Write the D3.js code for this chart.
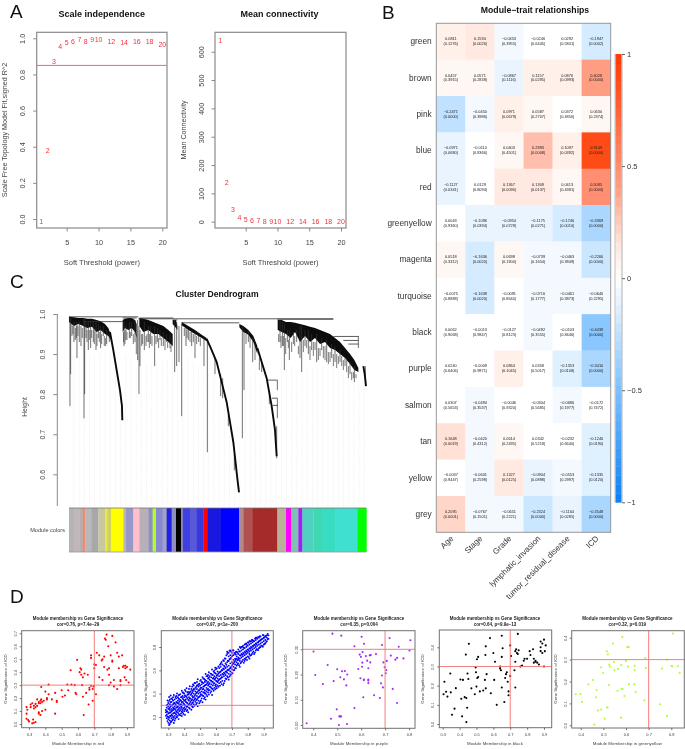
<!DOCTYPE html>
<html><head><meta charset="utf-8">
<script src="https://cdn.jsdelivr.net/npm/d3@7"></script>
<style>
html,body{margin:0;padding:0;background:#fff}
svg{display:block;font-family:"Liberation Sans",Arial,sans-serif;filter:blur(0.42px)}
</style></head><body>
<script>
// ---------- A: soft threshold ----------
const powers=[1,2,3,4,5,6,7,8,9,10,12,14,16,18,20];
const scaleFit=[-0.015,0.38,0.87,0.955,0.975,0.985,0.995,0.985,0.993,0.993,0.985,0.975,0.985,0.98,0.965];
const meanConn=[640,140,42,16,8,4,3,2,1,1,0,0,0,0,0];
const fitTicks=[0,0.2,0.4,0.6,0.8,1];
const connTicks=[0,100,200,300,400,500,600];
const powerTicks=[5,10,15,20];
const fitCut=0.85;
// ---------- B: module-trait ----------
const modules=["green","brown","pink","blue","red","greenyellow","magenta","turquoise","black","purple","salmon","tan","yellow","grey"];
const traits=["Age","Stage","Grade","lymphatic_invasion","tumor_residual_disease","ICD"];
const corAge=[0.0811,0.0457,-0.2471,-0.0971,-0.1127,0.0043,0.0518,-0.0075,0.0062,0.0240,0.0307,0.1648,-0.0037,0.2095];
const corStage=[0.1594,0.0571,-0.0450,-0.0110,0.0129,-0.1096,-0.1636,-0.1638,-0.0013,-0.0009,-0.0494,-0.0420,-0.0601,-0.0767];
const corGrade=[-0.0453,-0.0867,0.0971,0.0403,0.1367,-0.0954,0.0698,-0.0091,-0.0127,0.0864,-0.0046,0.0614,0.1327,-0.0651];
const corLymph=[-0.0246,0.1157,0.0587,0.2893,0.1309,-0.1175,-0.0739,-0.0716,-0.0492,0.0358,-0.0304,0.0342,-0.0904,-0.2324];
const corResid=[0.0292,0.0876,0.0372,0.1097,0.0413,-0.1746,-0.0463,-0.0461,-0.0103,-0.1353,-0.0686,-0.0232,-0.0553,-0.1164];
const corICD=[-0.1947,0.4028,0.0630,0.9149,0.5095,-0.3369,-0.2266,-0.0640,-0.4439,-0.3410,-0.0172,-0.1246,-0.1335,-0.3548];
const pAge=["0.1276","0.3915","0.0000","0.0680","0.0341","0.9360","0.3312","0.8888","0.9068","0.6406","0.5653","0.0019","0.9447","0.0001"];
const pStage=["0.0026","0.2838","0.3986","0.8366","0.8094","0.0394","0.0020","0.0020","0.9847","0.9871","0.3537","0.4312","0.2598","0.1501"];
const pGrade=["0.3955","0.1116","0.0679","0.4501","0.0090","0.0729","0.1900","0.8640","0.8123","0.1045","0.9320","0.2495","0.0125","0.2221"];
const pLymph=["0.6445","0.0295","0.2707","0.0008","0.0137","0.0271","0.1654","0.1777","0.3555","0.5017","0.5685","0.5218","0.0898","0.0000"];
const pResid=["0.5841","0.0993","0.4850","0.0392","0.4381","0.0010","0.3849","0.3873","0.8446","0.0108","0.1977","0.6640","0.2997","0.0285"];
const pICD=["0.0002","0.0000","0.2374","0.0000","0.0000","0.0000","0.0000","0.2295","0.0000","0.0000","0.7472","0.0190","0.0120","0.0000"];
const corTicks=[-1,-0.5,0,0.5,1];
// ---------- C: dendrogram (order along the leaves, height) ----------
const heightTicks=[0.6,0.7,0.8,0.9,1.0];
const dendroLinks=[[207,415,.993],[415,1000,.988],[832,1000,.987],[250,368,.981],[545,718,.978],[368,410,.99],[418,520,.99],[518,532,.985],[1000,1075,.944],[1030,1075,.934],[1045,1075,.925],[803,832,.835],[816,832,.79],[818,832,.772]];
const dendroStems=[[210,.99,.77],[212,.99,.85],[222,.98,.93],[231,.98,.89],[238,.98,.93],[243,.97,.92],[252,.99,.74],[254,.99,.8],[258,.98,.94],[265,.98,.91],[272,.98,.915],[280,.98,.93],[288,.98,.91],[295,.975,.94],[302,.97,.915],[310,.97,.945],[320,.96,.925],[328,.955,.93],
[372,.98,.92],[378,.97,.935],[388,.98,.94],[395,.98,.945],[405,.985,.93],[413,.985,.885],[417,.97,.80],[420,.96,.87],
[433,.98,.91],[445,.97,.93],[452,.97,.925],[464,.97,.87],[472,.965,.93],[480,.96,.935],[490,.955,.92],[500,.95,.93],[510,.95,.915],[516,.94,.92],
[524,.985,.855],[530,.98,.87],[537,.97,.88],[545,.975,.745],[558,.965,.92],[565,.96,.935],[575,.955,.92],[585,.95,.89],[596,.945,.93],[612,.94,.87],[622,.938,.655],[645,.89,.85],[662,.85,.795],[668,.84,.79],[685,.75,.72],[703,.65,.61],
[727,.97,.69],[732,.96,.81],[745,.96,.93],[758,.94,.88],[785,.88,.855],[808,.8,.775],[830,.72,.64],[832,.835,.81],[832,.79,.77],[832,.772,.74],
[840,.985,.93],[847,.98,.92],[853,.975,.86],[862,.96,.93],[868,.96,.885],[880,.955,.925],[890,.96,.93],[900,.97,.89],[905,.97,.855],[915,.96,.92],[925,.96,.9],[935,.95,.91],[950,.95,.88],[965,.94,.91],[980,.935,.88],[995,.925,.89],[1005,.92,.88],[1020,.91,.88],[1035,.89,.87],[1050,.88,.85],[1063,.87,.83],[1075,.945,.915],[1096,.87,.82]];
const dendroFine=[[216,.975,.945],[219,.97,.95],[226,.965,.935],[229,.97,.94],[234,.97,.945],[247,.965,.94],[261,.96,.93],[268,.96,.935],[275,.96,.94],[283,.96,.925],[291,.95,.92],[298,.955,.93],[305,.95,.925],[313,.945,.92],[317,.94,.92],
[371,.955,.93],[375,.96,.925],[381,.955,.935],[391,.955,.94],[400,.95,.925],[409,.95,.9],
[425,.95,.92],[428,.95,.925],[438,.945,.92],[441,.95,.93],[448,.95,.915],[456,.945,.92],[468,.945,.925],[476,.94,.915],[484,.94,.92],[495,.935,.91],[503,.93,.915],[513,.92,.905],
[553,.965,.945],[561,.96,.94],[570,.955,.93],[580,.95,.93],[590,.945,.925],[601,.94,.92],
[738,.95,.925],[750,.945,.915],[765,.92,.885],[778,.89,.86],
[836,.95,.93],[843,.945,.915],[850,.945,.92],[857,.94,.9],[865,.935,.915],[875,.93,.905],[884,.945,.92],[895,.92,.9],[910,.935,.905],[920,.935,.915],[930,.92,.885],[940,.93,.895],[945,.93,.91],[955,.915,.885],[960,.915,.895],[970,.92,.89],[975,.92,.885],[985,.905,.875],[990,.905,.88],[1000,.9,.87],[1010,.9,.865],[1015,.895,.875],[1025,.895,.87],[1030,.885,.86],[1040,.885,.855],[1045,.87,.84],[1055,.855,.835],[1060,.855,.84],[1068,.85,.84]];
const dendroBands=[
[[207,.993,.98],[222,.992,.97],[235,.99,.975],[250,.99,.97],[262,.988,.965],[276,.988,.968],[290,.985,.955],[302,.982,.96],[315,.975,.95],[325,.965,.945],[332,.95,.935]],
[[368,.985,.955],[375,.988,.965],[385,.99,.96],[395,.99,.965],[405,.985,.955],[410,.975,.94]],
[[418,.99,.97],[430,.988,.955],[445,.985,.96],[460,.98,.95],[475,.975,.95],[490,.97,.94],[505,.96,.93],[518,.95,.92]],
[[518,.985,.975],[528,.985,.965],[532,.97,.96]],
[[545,.98,.972],[565,.97,.96],[585,.96,.95],[605,.948,.94],[620,.94,.932]],
[[718,.975,.967],[730,.97,.955],[745,.96,.948],[760,.945,.93],[772,.92,.9]],
[[833,.985,.96],[845,.985,.955],[858,.98,.95],[872,.98,.94],[885,.978,.955],[900,.975,.93],[915,.972,.945],[930,.968,.93],[945,.965,.94],[960,.96,.925],[975,.955,.93],[990,.95,.915],[1005,.94,.91],[1020,.93,.9],[1035,.915,.89],[1050,.9,.875],[1063,.885,.86],[1075,.865,.855]]
];
const dendroCurves=[
[[330,.955],[340,.91],[350,.86],[360,.81],[366,.77],[367,.735]],
[[620,.938],[635,.91],[650,.88],[665,.83],[680,.78],[692,.72],[700,.68],[712,.59],[717,.555]],
[[772,.915],[785,.88],[800,.84],[815,.77],[825,.71],[830,.645]],
[[1090,.87],[1094,.85],[1098,.82]]
];
const dendroFloor=[[205,.76],[215,.9],[250,.9],[330,.91],[345,.88],[368,.73],[372,.91],[415,.86],[420,.87],[520,.9],[545,.85],[555,.9],[620,.86],[650,.85],[680,.75],[715,.55],[720,.69],[735,.81],[760,.87],[790,.83],[810,.75],[830,.64],[835,.9],[900,.86],[1000,.88],[1060,.83],[1100,.82]];
const moduleStrip=[[207,"#b4b4b4"],[222,"#c0b8b8"],[240,"#b0b0b0"],[248,"#f08a72"],[256,"#b8b8b8"],[275,"#a8a8a8"],[295,"#c8c8a0"],[315,"#e8e840"],[322,"#d0d060"],[333,"#ffff00"],[370,"#b8b8b0"],[378,"#9898c8"],[400,"#ffc0cb"],[418,"#b8b0b8"],[445,"#9090c0"],[458,"#adff2f"],[468,"#8888d0"],[488,"#a0a0c8"],[500,"#2020e0"],[515,"#9090c0"],[528,"#000000"],[544,"#a0a0c0"],[548,"#4040e0"],[570,"#5858d8"],[590,"#3838e0"],[610,"#ff0000"],[623,"#1818e0"],[663,"#0000ff"],[717,"#b08a8a"],[730,"#b05050"],[758,"#a52a2a"],[832,"#b8b098"],[858,"#ff00ff"],[873,"#80c0b0"],[895,"#a020f0"],[907,"#50d0c0"],[940,"#40d8b0"],[965,"#38dcc0"],[1005,"#40e0d0"],[1073,"#00ff00"],[1099,"#00ff00"]];
// ---------- D: scatter panels ([module membership, gene significance]) ----------
const redPoints=[[.285,.13],[.29,.11],[.285,.08],[.285,.04],[.295,.03],[.30,.02],[.32,.005],[.33,.01],[.34,.015],[.325,.035],[.31,.15],[.31,.13],[.32,.16],[.33,.14],[.33,.12],[.34,.13],[.34,.155],[.35,.14],[.35,.19],[.36,.16],[.36,.17],[.37,.18],[.37,.16],[.375,.19],[.38,.17],[.39,.18],[.36,.09],[.36,.08],[.37,.07],[.38,.1],[.40,.11],[.375,.285],[.41,.19],[.40,.25],[.41,.2],[.42,.23],[.42,.305],[.44,.19],[.46,.24],[.46,.08],[.47,.18],[.47,.17],[.50,.26],[.505,.21],[.52,.22],[.535,.305],[.54,.26],[.555,.415],[.56,.305],[.58,.3],[.585,.24],[.59,.23],[.595,.495],[.61,.4],[.615,.43],[.62,.42],[.62,.38],[.625,.3],[.63,.36],[.63,.21],[.635,.07],[.64,.39],[.65,.24],[.66,.38],[.665,.15],[.67,.28],[.67,.265],[.68,.53],[.68,.51],[.68,.295],[.69,.18],[.69,.27],[.695,.29],[.70,.43],[.70,.46],[.71,.23],[.71,.455],[.715,.55],[.73,.36],[.73,.53],[.745,.49],[.75,.5],[.75,.34],[.76,.52],[.76,.44],[.765,.66],[.77,.65],[.775,.69],[.78,.42],[.785,.6],[.79,.43],[.79,.38],[.79,.3],[.8,.53],[.8,.32],[.81,.68],[.81,.48],[.81,.49],[.82,.34],[.82,.29],[.83,.63],[.84,.27],[.84,.55],[.85,.52],[.85,.43],[.86,.33],[.86,.34],[.87,.53],[.86,.3],[.875,.44],[.88,.45],[.885,.36],[.89,.45],[.89,.43],[.895,.34],[.90,.44],[.91,.32],[.92,.42]];
const blueColumns=[[.285,[.21,.24,.26]],[.29,[.19,.22,.25,.28,.3]],[.30,[.15,.18,.2,.23,.27,.29,.32]],[.31,[.14,.17,.21,.24,.26,.28,.31,.35]],[.32,[.16,.19,.22,.25,.27,.3,.33,.36]],[.33,[.18,.2,.23,.26,.28,.31,.34,.37]],[.34,[.17,.21,.24,.27,.29,.32,.35]],[.35,[.2,.22,.25,.28,.3,.33,.36,.38]],[.36,[.21,.24,.26,.29,.32,.34,.37]],[.37,[.22,.25,.28,.3,.33,.35,.39]],[.38,[.23,.27,.29,.31,.34,.37]],[.39,[.24,.26,.3,.33,.36,.38,.41]],[.40,[.25,.28,.31,.34,.37,.4]],[.41,[.27,.3,.33,.35,.38,.42]],[.42,[.26,.29,.32,.36,.39,.41]],[.43,[.28,.31,.34,.37,.4,.44]],[.44,[.3,.33,.36,.39,.42]],[.45,[.29,.32,.35,.38,.41,.43,.46]],[.46,[.31,.34,.37,.4,.44,.47]],[.47,[.33,.36,.39,.42,.45,.49]],[.48,[.32,.35,.38,.41,.44,.47,.5]],[.49,[.34,.37,.4,.43,.46,.48]],[.50,[.33,.38,.41,.44,.47,.51]],[.51,[.36,.39,.42,.45,.48,.5]],[.52,[.38,.41,.44,.46,.49,.53]],[.53,[.37,.4,.43,.47,.5,.52]],[.54,[.39,.42,.45,.48,.51,.55]],[.55,[.41,.44,.47,.5,.53,.56]],[.56,[.43,.46,.49,.52,.55]],[.57,[.42,.45,.48,.51,.54,.57]],[.58,[.44,.47,.5,.53,.56]],[.59,[.45,.49,.52,.55,.58,.6]],[.60,[.46,.48,.51,.54,.57,.61]],[.61,[.47,.5,.53,.56,.59]],[.62,[.49,.52,.55,.58,.62]],[.63,[.5,.53,.56,.59,.63,.66]],[.64,[.51,.54,.57,.6,.65]],[.65,[.49,.55,.58,.61,.64,.68]],[.66,[.53,.56,.59,.62,.66,.7]],[.67,[.55,.58,.6,.63,.67,.74,.76]],[.68,[.52,.57,.6,.64,.68,.72,.75]],[.69,[.56,.59,.62,.66,.7,.73,.77]],[.70,[.58,.61,.64,.67,.72,.75]],[.71,[.6,.63,.66,.69,.73,.77]],[.72,[.62,.65,.68,.7,.74]],[.73,[.64,.67,.7,.72,.76]],[.74,[.66,.69,.71,.74,.78]],[.75,[.63,.68,.7,.73,.76,.8]],[.76,[.67,.71,.74,.77,.8]],[.77,[.69,.72,.75,.78,.81]],[.78,[.68,.7,.73,.76,.79,.82]],[.79,[.71,.74,.77,.8,.83]],[.80,[.72,.75,.78,.81,.84]],[.81,[.7,.74,.76,.79,.82,.85]],[.82,[.73,.77,.8,.83,.85]],[.83,[.75,.78,.81,.84,.86]],[.84,[.74,.79,.82,.85]],[.85,[.77,.8,.83,.86,.88]],[.86,[.78,.81,.84,.87]],[.87,[.79,.82,.85,.88]],[.88,[.8,.83,.86,.89]],[.89,[.81,.84,.87]],[.90,[.82,.85,.88,.9]],[.91,[.83,.86,.89]],[.92,[.85,.88,.9]],[.93,[.87,.9]]];
const blueColumns2=[[.295,[.165,.205,.245,.305,.342]],[.305,[.132,.193,.235,.268,.338,.372]],[.315,[.155,.207,.238,.292,.327,.384]],[.325,[.173,.212,.256,.298,.352]],[.335,[.148,.194,.233,.273,.318,.389]],[.345,[.186,.229,.262,.309,.371]],[.355,[.197,.238,.283,.322,.402]],[.365,[.182,.227,.268,.313,.358,.386]],[.375,[.214,.259,.306,.347,.396]],[.385,[.208,.247,.281,.328,.372,.425]],[.395,[.226,.272,.318,.351,.408]],[.405,[.218,.263,.296,.342,.385,.432]],[.415,[.252,.287,.324,.371,.446]],[.425,[.241,.302,.347,.392,.415]],[.435,[.273,.319,.356,.412,.463]],[.445,[.262,.308,.343,.397,.441]],[.455,[.284,.327,.368,.423,.478]],[.465,[.296,.352,.381,.436,.491]],[.475,[.309,.345,.403,.458]],[.485,[.293,.362,.417,.472,.524]],[.495,[.318,.373,.428,.486]],[.505,[.342,.396,.452,.518]],[.515,[.327,.384,.437,.497,.542]],[.525,[.356,.412,.463,.528]],[.535,[.349,.405,.474,.513,.568]],[.545,[.378,.436,.492,.549]],[.555,[.392,.428,.481,.537,.583]],[.565,[.407,.459,.512,.572]],[.575,[.389,.443,.503,.561,.607]],[.585,[.425,.486,.534,.589]],[.595,[.438,.471,.528,.576,.623]],[.605,[.446,.507,.553,.618]],[.615,[.459,.513,.572,.634]],[.625,[.468,.527,.586,.648]],[.635,[.482,.541,.603,.672]],[.645,[.474,.563,.616,.687]],[.655,[.508,.572,.632,.702]],[.665,[.526,.587,.648,.728]],[.675,[.538,.606,.682,.752]],[.685,[.546,.613,.695,.768]],[.695,[.567,.628,.708,.761]],[.705,[.574,.652,.727,.772]],[.715,[.603,.671,.748]],[.725,[.618,.693,.736,.757]],[.735,[.652,.688,.752]],[.745,[.643,.702,.763]],[.755,[.661,.726,.791]],[.765,[.679,.734,.802]],[.775,[.664,.741,.794]],[.785,[.697,.753,.826]],[.795,[.688,.762,.818]],[.805,[.713,.772,.836]],[.815,[.726,.784,.848]],[.825,[.738,.793,.861]],[.835,[.762,.807,.852]],[.845,[.752,.816,.872]],[.855,[.781,.824,.879]],[.865,[.773,.838,.886]],[.875,[.796,.851,.893]],[.885,[.812,.864]],[.895,[.803,.872,.903]],[.905,[.828,.881]],[.915,[.842,.896]],[.925,[.867,.912]]];
const purplePoints=[[.372,.007],[.401,.291],[.408,.198],[.44,.162],[.46,.238],[.474,.025],[.48,.362],[.485,.174],[.498,.062],[.50,.221],[.507,0],[.509,.034],[.513,.189],[.513,.034],[.516,.034],[.517,.354],[.52,.213],[.528,.181],[.532,.214],[.538,.157],[.541,.004],[.542,.2],[.572,.067],[.572,.312],[.588,.222],[.594,.279],[.597,.185],[.599,.27],[.602,.35],[.604,.231],[.605,.247],[.606,.289],[.609,.11],[.611,.178],[.612,.322],[.612,.18],[.62,.273],[.625,.255],[.63,.225],[.63,.18],[.63,.176],[.63,.166],[.636,.276],[.64,.277],[.638,.248],[.654,.118],[.662,.281],[.678,.107],[.683,.165],[.687,.317],[.687,.196],[.691,.149],[.693,.248],[.698,.229],[.703,.205],[.705,.218],[.707,.254],[.719,.345],[.724,.275],[.732,.143],[.743,.259],[.75,.266],[.75,.087],[.757,.31],[.777,.264],[.802,.295],[.806,.336]];
const blackPoints=[[.305,.155],[.31,.22],[.32,.168],[.328,.143],[.345,.263],[.348,.165],[.355,.048],[.37,.08],[.378,.187],[.405,.232],[.41,.132],[.415,.04],[.42,.23],[.43,.14],[.437,.362],[.44,.135],[.44,.01],[.445,.085],[.447,.263],[.452,.235],[.455,.418],[.47,.186],[.49,.155],[.495,.295],[.497,.27],[.5,.195],[.503,.338],[.505,.24],[.51,.35],[.51,.245],[.52,.17],[.54,.175],[.55,.23],[.553,.36],[.555,.186],[.555,.405],[.56,.26],[.58,.448],[.585,.16],[.6,.37],[.605,.23],[.61,.325],[.62,.1],[.64,.29],[.64,.3],[.645,.28],[.65,.35],[.65,.19],[.655,.395],[.65,.46],[.665,.115],[.67,.24],[.675,.26],[.68,.27],[.685,.22],[.69,.17],[.69,.15],[.7,.41],[.7,.25],[.705,.355],[.725,.28],[.73,.325],[.73,.19],[.73,.38],[.735,.39],[.74,.37],[.745,.365],[.75,.385],[.745,.47],[.76,.3],[.77,.305],[.78,.33],[.785,.34],[.8,.34],[.815,.38],[.82,.36],[.835,.39],[.84,.34],[.85,.33],[.86,.32],[.87,.31],[.88,.4],[.89,.42],[.88,.43],[.89,.37],[.9,.44],[.91,.41],[.85,.325],[.84,.32],[.88,.38],[.905,.38],[.9,.3]];
const greenyellowPoints=[[.378,.142],[.399,.143],[.406,.107],[.434,.187],[.454,.207],[.46,.003],[.468,.128],[.47,.161],[.476,.068],[.491,.072],[.49,.265],[.499,.239],[.506,.03],[.516,.081],[.519,.081],[.515,.338],[.52,.324],[.526,.277],[.529,.268],[.525,.184],[.547,.289],[.543,.373],[.549,.251],[.565,.257],[.562,.158],[.578,.035],[.579,.275],[.581,.166],[.585,.167],[.593,.134],[.6,.294],[.609,.268],[.606,.358],[.613,.356],[.613,.187],[.584,.403],[.637,.187],[.638,.272],[.638,.251],[.643,.152],[.681,.114],[.685,.307],[.688,.262],[.751,.096],[.759,.259],[.781,.3],[.781,.043],[.801,.271],[.807,.419],[.804,.269],[.829,.271],[.837,.24]];
const scatterPanels=[
 {name:"red",color:"#ff0000",stat:"cor=0.76, p=7.4e\u221229",pts:redPoints,xt:[.3,.4,.5,.6,.7,.8,.9],yt:[0,.1,.2,.3,.4,.5,.6,.7],yf:".1f",hline:.3,box:[21.7,134,630.7,727.7],xr:[.3,.9,29,127],yr:[0,.7,724,633.3],cx:78,ly:6.8},
 {name:"blue",color:"#0000ff",stat:"cor=0.97, p<1e\u2212200",pts:blueColumns.concat(blueColumns2).flatMap(([m,g])=>g.map(v=>[m,v])),xt:[.3,.4,.5,.6,.7,.8,.9],yt:[.2,.4,.6,.8],yf:".1f",hline:.3,box:[161.3,273.3,630.7,728],xr:[.3,.9,168.3,263.7],yr:[.2,.8,717,647],cx:217.3,ly:146.5},
 {name:"purple",color:"#a62cf5",stat:"cor=0.35, p=0.004",pts:purplePoints,xt:[.4,.5,.6,.7,.8],yt:[0,.1,.2,.3],yf:".2f",hline:.3,box:[302.7,415,630.7,728.3],xr:[.4,.8,313.3,409],yr:[0,.3,725,649.3],cx:359,ly:287},
 {name:"black",color:"#000000",stat:"cor=0.64, p=9.9e\u221213",pts:blackPoints,xt:[.3,.4,.5,.6,.7,.8,.9],yt:[0,.1,.2,.3,.4],yf:".1f",hline:.3,box:[439.3,551.7,630,727.7],xr:[.3,.9,442.7,544],yr:[0,.4,724,647.3],cx:495,ly:424},
 {name:"greenyellow",color:"#adff2f",stat:"cor=0.32, p=0.019",pts:greenyellowPoints,xt:[.4,.5,.6,.7,.8],yt:[0,.1,.2,.3,.4],yf:".1f",hline:.3,box:[571.7,684.3,630.7,728],xr:[.4,.8,580.7,671.3],yr:[0,.4,725.3,637.7],cx:627.3,ly:556.5}
];

// ---------- drawing ----------
const svg=d3.select("body").append("svg").attr("width",685).attr("height",749);
svg.append("rect").attr("width",685).attr("height",749).attr("fill","#fff");
const GREY="#444", FRAME="#8a8a8a";
function text(s,x,y,size,opt={}){
  const t=svg.append("text").attr("x",x).attr("y",y).attr("font-size",size).attr("fill",opt.fill||"#333")
    .attr("text-anchor",opt.anchor||"middle").attr("font-weight",opt.weight||"normal").text(s);
  if(opt.rot!=null)t.attr("transform",`rotate(${opt.rot} ${x} ${y})`);
  return t;
}
[["A",10,17.5],["B",382,18.5],["C",10,287.5],["D",10,603]].forEach(([s,x,y])=>text(s,x,y,19,{anchor:"start",fill:"#111"}));

function xAxis(scale,values,y,fs,tk,pad,fmt,stroke){
  const g=svg.append("g").attr("transform",`translate(0,${y})`).call(d3.axisBottom(scale).tickValues(values).tickSize(tk).tickPadding(pad).tickFormat(fmt));
  g.select(".domain").remove();g.selectAll("line").attr("stroke",stroke||FRAME);
  g.selectAll("text").attr("font-size",fs).attr("fill",GREY);
  g.attr("font-family",null);return g;
}
function yAxis(scale,values,x,fs,tk,pad,fmt,stroke){
  const g=svg.append("g").attr("transform",`translate(${x},0)`).call(d3.axisLeft(scale).tickValues(values).tickSize(tk).tickPadding(pad).tickFormat(fmt));
  g.select(".domain").remove();g.selectAll("line").attr("stroke",stroke||FRAME);
  g.selectAll("text").attr("font-size",fs).attr("fill",GREY).attr("transform","rotate(-90)").attr("x",0).attr("y",-(tk+pad)).attr("dy",0).attr("text-anchor","middle");
  g.attr("font-family",null);return g;
}
function box(x0,x1,y0,y1,sw,stroke){svg.append("rect").attr("x",x0).attr("y",y0).attr("width",x1-x0).attr("height",y1-y0).attr("fill","none").attr("stroke",stroke||FRAME).attr("stroke-width",sw||1);}

// Panel A
function panelA(o){
  const x=d3.scaleLinear().domain([5,20]).range(o.xr), y=d3.scaleLinear().domain(o.yd).range(o.yr);
  box(o.box[0],o.box[1],32.3,228,1.2);
  xAxis(x,powerTicks,228,7.3,3.5,8,d3.format("d"));
  yAxis(y,o.yt,o.box[0],7.3,3.5,8,o.fmt);
  text(o.title,(o.box[0]+o.box[1])/2+(o.tdx||0),16.5,9,{weight:"bold",fill:"#111"});
  text("Soft Threshold (power)",(o.box[0]+o.box[1])/2,264.5,7.5,{fill:GREY});
  text(o.ylab,o.lx,130,o.lfs,{rot:-90,fill:GREY});
  if(o.cut!=null)svg.append("line").attr("x1",o.box[0]).attr("x2",o.box[1]).attr("y1",y(o.cut)).attr("y2",y(o.cut)).attr("stroke","#f26a6a").attr("stroke-width",1);
  svg.append("g").selectAll("text").data(powers).join("text").attr("x",d=>x(d)).attr("y",(d,i)=>y(o.vals[i])+2.5).attr("text-anchor","middle").attr("font-size",7).attr("fill","#f4303a").text(d=>d);
}
panelA({box:[36.7,167],xr:[66.7,162.3],yd:[0,1],yr:[219,38.3],yt:fitTicks,fmt:d3.format(".1f"),vals:scaleFit,cut:fitCut,title:"Scale independence",ylab:"Scale Free Topology Model Fit,signed R^2",lx:7,lfs:7.2});
panelA({box:[215,346],xr:[245.7,341],yd:[0,600],yr:[221.7,51.7],yt:connTicks,fmt:d3.format("d"),vals:meanConn,title:"Mean connectivity",tdx:-1,ylab:"Mean Connectivity",lx:186,lfs:7.2});

// Panel B
const corByTrait=[corAge,corStage,corGrade,corLymph,corResid,corICD];
const pByTrait=[pAge,pStage,pGrade,pLymph,pResid,pICD];
const corColor=d3.scaleLinear().domain([-1,-.44,-.34,-.16,0,.16,.4,.5,.9,1]).range(["#0a80f5","#8cc8ff","#a8d6ff","#d8ecff","#ffffff","#ffe4da","#ff9f85","#ff8d6e","#ff4a14","#ff3a08"]);
const stepColor=v=>corColor(Math.trunc(v/0.04)*0.04+(Math.abs(v)<0.04?0:Math.sign(v)*0.01));
const hx=d3.scaleBand().domain(traits).range([436.3,610.7]);
const hy=d3.scaleBand().domain(modules).range([23.3,532.3]);
const cells=[];traits.forEach((t,c)=>modules.forEach((m,r)=>cells.push({t,m,v:corByTrait[c][r],p:pByTrait[c][r]})));
const fmtCor=v=>(v<0?"\u2212":"")+Math.abs(v).toFixed(4);
svg.append("g").selectAll("rect").data(cells).join("rect").attr("x",d=>hx(d.t)).attr("y",d=>hy(d.m)).attr("width",hx.bandwidth()+.3).attr("height",hy.bandwidth()+.3).attr("fill",d=>stepColor(d.v));
const cellG=svg.append("g").attr("font-size",3.9).attr("fill","#222").attr("text-anchor","middle");
cellG.selectAll("text.c").data(cells).join("text").attr("class","c").attr("x",d=>hx(d.t)+hx.bandwidth()/2).attr("y",d=>hy(d.m)+hy.bandwidth()/2-1.3).text(d=>fmtCor(d.v));
cellG.selectAll("text.p").data(cells).join("text").attr("class","p").attr("x",d=>hx(d.t)+hx.bandwidth()/2).attr("y",d=>hy(d.m)+hy.bandwidth()/2+3.6).text(d=>`(${d.p})`);
box(436.3,610.7,23.3,532.3,1,"#999");
svg.append("g").selectAll("text").data(modules).join("text").attr("x",431.7).attr("y",d=>hy(d)+hy.bandwidth()/2+2.8).attr("text-anchor","end").attr("font-size",8.3).attr("fill","#333").text(d=>d);
svg.append("g").selectAll("text").data(traits).join("text").attr("transform",d=>`translate(${hx(d)+hx.bandwidth()/2+3},539) rotate(-45)`).attr("text-anchor","end").attr("font-size",8.1).attr("fill","#333").text(d=>d);
text("Module\u2212trait relationships",535,12.5,8.7,{weight:"bold",fill:"#111"});
const cbar=d3.scaleLinear().domain([-1,1]).range([502.3,54]);
const cbSteps=d3.range(-25,25).map(i=>i*0.04);
svg.append("g").selectAll("rect").data(cbSteps).join("rect").attr("x",615.5).attr("width",6).attr("y",d=>cbar(d+0.04)).attr("height",d=>cbar(d)-cbar(d+0.04)+.4).attr("fill",d=>corColor(d+0.02));
svg.append("line").attr("x1",622).attr("x2",622).attr("y1",54).attr("y2",502.3).attr("stroke","#999").attr("stroke-width",.8);
svg.append("line").attr("x1",615).attr("x2",615).attr("y1",54).attr("y2",502.3).attr("stroke","#999").attr("stroke-width",.6);
const cbAxis=svg.append("g").attr("transform","translate(622,0)").call(d3.axisRight(cbar).tickValues(corTicks).tickSize(3).tickPadding(2).tickFormat(d=>d<0?"\u2212"+Math.abs(d):d));
cbAxis.select(".domain").remove();cbAxis.selectAll("line").attr("stroke","#666");cbAxis.selectAll("text").attr("font-size",7.5).attr("fill","#333");cbAxis.attr("font-family",null);

// Panel C
const ox=d3.scaleLinear().domain([205,1100]).range([68.3,366.7]);
const hty=d3.scaleLinear().domain([1,.6]).range([314,474.3]);
const floor=d3.scaleLinear().domain(dendroFloor.map(d=>d[0])).range(dendroFloor.map(d=>d[1]));
svg.append("g").selectAll("line").data(d3.range(222,1100,15.55)).join("line").attr("x1",d=>ox(d)).attr("x2",d=>ox(d)).attr("y1",d=>hty(floor(d))+2).attr("y2",507).attr("stroke","#dedede").attr("stroke-width",.5).attr("stroke-dasharray","1 1.2");
const area=d3.area().x(d=>ox(d[0])).y0(d=>hty(d[1])).y1(d=>hty(d[2]));
svg.append("g").selectAll("path").data(dendroBands).join("path").attr("d",area).attr("fill","#0c0c0c");
svg.append("g").selectAll("line").data(dendroStems).join("line").attr("x1",d=>ox(d[0])).attr("x2",d=>ox(d[0])).attr("y1",d=>hty(d[1])).attr("y2",d=>hty(d[2])).attr("stroke","#333").attr("stroke-width",.7);
svg.append("g").selectAll("line").data(dendroFine).join("line").attr("x1",d=>ox(d[0])).attr("x2",d=>ox(d[0])).attr("y1",d=>hty(d[1])).attr("y2",d=>hty(d[2])).attr("stroke","#222").attr("stroke-width",.6);
svg.append("g").selectAll("line").data(dendroLinks).join("line").attr("x1",d=>ox(d[0])).attr("x2",d=>ox(d[1])).attr("y1",d=>hty(d[2])).attr("y2",d=>hty(d[2])).attr("stroke","#333").attr("stroke-width",.8);
const ln=d3.line().x(d=>ox(d[0])).y(d=>hty(d[1]));
svg.append("g").selectAll("path").data(dendroCurves).join("path").attr("d",ln).attr("fill","none").attr("stroke","#0a0a0a").attr("stroke-width",1.9);
svg.append("line").attr("x1",57.3).attr("x2",57.3).attr("y1",314).attr("y2",506).attr("stroke",FRAME).attr("stroke-width",1);
yAxis(hty,heightTicks,57.3,7,4,8,d3.format(".1f"));
text("Cluster Dendrogram",217,296.5,8.6,{weight:"bold",fill:"#111"});
text("Height",27,407,6.8,{rot:-90,fill:GREY});
text("Module colors",65,532,5.6,{anchor:"end",fill:GREY});
svg.append("g").selectAll("rect").data(moduleStrip.slice(0,-1)).join("rect").attr("x",d=>ox(d[0])).attr("width",(d,i)=>ox(moduleStrip[i+1][0])-ox(d[0])+.3).attr("y",508).attr("height",44).attr("fill",d=>d[1]);
svg.append("line").attr("x1",ox(207)).attr("x2",ox(1099)).attr("y1",508).attr("y2",508).attr("stroke","#777").attr("stroke-width",.8);
svg.append("line").attr("x1",ox(207)).attr("x2",ox(1099)).attr("y1",552).attr("y2",552).attr("stroke","#999").attr("stroke-width",.8);

// Panel D
scatterPanels.forEach(o=>{
  const x=d3.scaleLinear().domain(o.xr.slice(0,2)).range(o.xr.slice(2));
  const y=d3.scaleLinear().domain(o.yr.slice(0,2)).range(o.yr.slice(2));
  svg.append("g").selectAll("circle").data(o.pts).join("circle").attr("cx",d=>x(d[0])).attr("cy",d=>y(d[1])).attr("r",o.name=="blue"?0.95:1.05).attr("fill",o.color);
  svg.append("line").attr("x1",o.box[0]).attr("x2",o.box[1]).attr("y1",y(o.hline)).attr("y2",y(o.hline)).attr("stroke","#f47070").attr("stroke-width",.9);
  svg.append("line").attr("x1",x(.7)).attr("x2",x(.7)).attr("y1",o.box[2]).attr("y2",o.box[3]).attr("stroke","#f47070").attr("stroke-width",.9);
  box(o.box[0],o.box[1],o.box[2],o.box[3],1,"#707070");
  xAxis(x,o.xt,o.box[3],4,2,3,d3.format(".1f"),"#707070");
  yAxis(y,o.yt,o.box[0],4,2,3,d3.format(o.yf),"#707070");
  text("Module membership vs Gene Significance",o.cx,619.8,4.5,{weight:"bold",fill:"#222"});
  text(o.stat,o.cx,625.6,4.5,{weight:"bold",fill:"#222"});
  text("Module Membership in "+o.name,o.cx,745,4.4,{fill:GREY});
  text("Gene Significance of ICD",o.ly,679,4.4,{rot:-90,fill:GREY});
});
</script></body></html>
